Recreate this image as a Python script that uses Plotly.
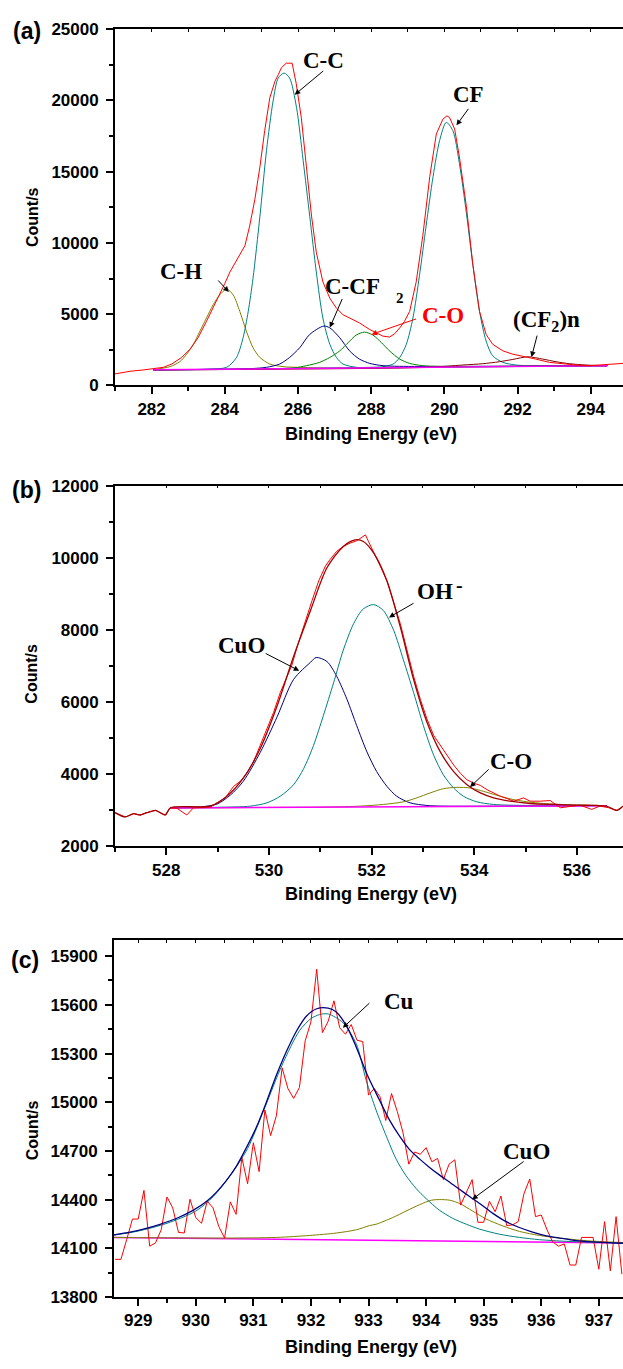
import plotly.graph_objects as go

W, H = 623, 1369

# ---------------- Panel (a): C 1s ----------------
A_RAW_X = [281.0, 281.41, 281.77, 282.05, 282.32, 282.55, 282.68, 282.82, 283.05, 283.27, 283.5, 283.68, 283.86,
           284.0, 284.14, 284.27, 284.41, 284.55, 284.68, 284.82, 284.96, 285.09, 285.23, 285.37, 285.46, 285.55,
           285.68, 285.84, 285.95, 286.09, 286.23, 286.37, 286.5, 286.68, 286.87, 287.05, 287.23, 287.41, 287.68,
           287.96, 288.14, 288.32, 288.5, 288.64, 288.78, 288.91, 289.05, 289.23, 289.41, 289.6, 289.78, 289.96,
           290.07, 290.14, 290.28, 290.41, 290.6, 290.78, 290.96, 291.14, 291.32, 291.6, 291.87, 292.23, 292.5,
           292.87, 293.23, 293.6, 293.96, 294.32, 294.5, 294.88]
A_RAW_Y = [807, 992, 1084, 1153, 1269, 1499, 1730, 1961, 2537, 3345, 4498, 5421, 6459,
           7151, 7958, 8535, 9112, 9804, 11188, 13033, 15340, 17878, 20185, 21338, 21800, 22300,
           22610, 22610, 21200, 18800, 15340, 11880, 9340, 7266, 6113, 5420, 4960, 4730, 4383,
           3921, 3690, 3460, 3391, 3622, 4037, 4498, 5190, 7266, 10496, 14648, 17647, 18685,
           18916, 18800, 17993, 16032, 12572, 8420, 5190, 3575, 2883, 2422, 2191, 2007, 1845,
           1615, 1499, 1430, 1384, 1430, 1499, 1545]

A_BASE_X = [282.05, 294.45]
A_BASE_Y = [1090, 1384]

A_CH_X = [282.05, 282.23, 282.5, 282.77, 282.96, 283.14, 283.32, 283.5, 283.68, 283.86, 284.05, 284.23, 284.41,
          284.59, 284.77, 284.96, 285.23, 285.59, 285.96, 287.0, 290.0, 294.45]
A_CH_Y = [1107, 1176, 1315, 1661, 2191, 2883, 3806, 4729, 5652, 6344, 6759, 6344, 5190,
          3806, 2653, 1961, 1500, 1315, 1269, 1215, 1280, 1384]

A_CC_X = [282.05, 283.14, 283.59, 284.05, 284.32, 284.5, 284.64, 284.77, 284.96, 285.14, 285.32, 285.46, 285.62,
          285.77, 285.96, 286.14, 286.32, 286.5, 286.68, 286.87, 287.05, 287.23, 287.6, 288.5, 291.0, 294.45]
A_CC_Y = [1090, 1112, 1150, 1270, 1960, 3345, 5190, 7497, 11880, 16493, 19954, 21568, 21915,
          21568, 19493, 15802, 11880, 7958, 4729, 2883, 1960, 1500, 1270, 1245, 1305, 1384]

A_CF_X = [282.05, 285.0, 287.96, 288.32, 288.6, 288.78, 288.96, 289.14, 289.32, 289.5, 289.69, 289.87, 290.05,
          290.23, 290.41, 290.6, 290.78, 290.96, 291.14, 291.32, 291.6, 291.96, 292.32, 294.45]
A_CF_Y = [1090, 1160, 1269, 1315, 1500, 1960, 2883, 4729, 7728, 11188, 14648, 17186, 18454,
          17878, 15571, 12111, 8420, 5190, 3114, 2076, 1615, 1430, 1384, 1384]

A_CCF2_X = [282.05, 284.68, 285.14, 285.5, 285.77, 286.05, 286.32, 286.7, 286.87, 287.14, 287.41, 287.68, 287.96,
            288.32, 288.78, 294.45]
A_CCF2_Y = [1090, 1176, 1269, 1500, 1961, 2653, 3575, 4160, 4037, 3345, 2422, 1845, 1545,
            1384, 1338, 1384]

A_CO_X = [282.05, 285.87, 286.23, 286.59, 286.87, 287.14, 287.37, 287.59, 287.82, 288.05, 288.28, 288.5, 288.78,
          289.05, 289.41, 289.87, 294.45]
A_CO_Y = [1090, 1223, 1384, 1615, 1961, 2422, 2999, 3529, 3737, 3529, 2999, 2422, 1845,
          1545, 1384, 1338, 1384]

A_CF2N_X = [282.05, 289.5, 290.5, 291.05, 291.5, 291.87, 292.28, 292.69, 293.05, 293.42, 293.87, 294.45]
A_CF2N_Y = [1090, 1265, 1430, 1522, 1661, 1822, 2007, 1845, 1661, 1522, 1430, 1384]

# ---------------- Panel (b): O 1s ----------------
B_RAW_X = [527.0, 527.2, 527.36, 527.49, 527.62, 527.79, 527.98, 528.08, 528.21, 528.4, 528.53, 528.73, 528.86,
           528.99, 529.15, 529.31, 529.44, 529.57, 529.7, 529.83, 529.96, 530.09, 530.22, 530.35, 530.45, 530.55,
           530.64, 530.74, 530.84, 530.97, 531.1, 531.19, 531.32, 531.45, 531.58, 531.71, 531.88, 531.94, 532.04,
           532.17, 532.3, 532.43, 532.56, 532.69, 532.82, 532.95, 533.08, 533.21, 533.34, 533.47, 533.6, 533.73,
           533.86, 533.99, 534.12, 534.25, 534.38, 534.51, 534.64, 534.77, 534.96, 535.09, 535.29, 535.48, 535.68,
           535.87, 536.06, 536.29, 536.45, 536.62, 536.78, 536.9]
B_RAW_Y = [2930, 2811, 2902, 2866, 2930, 2994, 2866, 3067, 3048, 2866, 3067, 3085, 3085,
           3203, 3340, 3659, 3796, 4024, 4343, 4799, 5254, 5710, 6257, 6713, 7032, 7533,
           7944, 8354, 8810, 9357, 9767, 9949, 10177, 10314, 10405, 10469, 10633, 10451, 10132,
           9767, 9357, 8764, 8172, 7442, 6713, 6075, 5528, 5072, 4799, 4525, 4252, 4024,
           3841, 3750, 3686, 3568, 3477, 3386, 3322, 3249, 3340, 3249, 3249, 3267, 3067,
           3112, 3139, 3021, 3112, 3067, 2994, 3112]

B_ENV_X = [527.0, 527.2, 527.36, 527.49, 527.62, 527.79, 527.98, 528.08, 528.86, 529.18, 529.5, 529.83, 530.16,
           530.48, 530.81, 531.13, 531.45, 531.68, 531.84, 532.04, 532.3, 532.56, 532.82, 533.08, 533.34, 533.6,
           533.86, 534.12, 534.38, 534.7, 535.09, 535.55, 536.0, 536.39, 536.58, 536.78, 536.9]
B_ENV_Y = [2930, 2811, 2902, 2866, 2930, 2994, 2866, 3067, 3112, 3386, 3887, 4707, 5893,
           7260, 8536, 9721, 10314, 10496, 10451, 10132, 9357, 8080, 6622, 5437, 4616, 4069,
           3705, 3477, 3340, 3249, 3185, 3158, 3139, 3130, 3112, 2994, 3112]

B_BASE_X = [528.08, 536.58]
B_BASE_Y = [3060, 3125]

B_CUO_X = [528.08, 528.66, 528.99, 529.25, 529.5, 529.83, 530.16, 530.48, 530.81, 530.92, 531.13, 531.32, 531.52,
           531.71, 531.91, 532.1, 532.3, 532.49, 532.75, 533.08, 533.4, 536.58]
B_CUO_Y = [3067, 3090, 3170, 3420, 3800, 4600, 5590, 6625, 7100, 7233, 7123, 6713, 6075,
           5345, 4616, 4069, 3659, 3386, 3203, 3130, 3112, 3125]

B_OH_X = [528.08, 529.0, 529.64, 529.96, 530.22, 530.48, 530.68, 530.87, 531.06, 531.26, 531.45, 531.65, 531.84,
          532.04, 532.23, 532.43, 532.62, 532.82, 533.01, 533.21, 533.4, 533.6, 533.79, 534.05, 534.38, 535.03,
          536.58]
B_OH_Y = [3060, 3080, 3112, 3203, 3386, 3705, 4161, 4799, 5619, 6531, 7442, 8172, 8582,
          8700, 8536, 7989, 7169, 6257, 5345, 4525, 3978, 3614, 3386, 3231, 3158, 3130,
          3125]

B_CO_X = [528.08, 530.16, 531.13, 531.78, 532.23, 532.62, 532.88, 533.14, 533.4, 533.66, 533.92, 534.18, 534.44,
          534.7, 535.03, 535.35, 535.87, 536.39, 536.58]
B_CO_Y = [3060, 3076, 3085, 3112, 3158, 3231, 3340, 3477, 3595, 3632, 3614, 3522, 3413,
          3313, 3231, 3185, 3149, 3130, 3125]

# ---------------- Panel (c): Cu 2p ----------------
C_RAW_X = [928.6, 928.7, 928.8, 928.9, 929.0, 929.1, 929.2, 929.3, 929.4, 929.5, 929.6, 929.7, 929.8, 929.9,
           930.0, 930.1, 930.2, 930.3, 930.4, 930.5, 930.6, 930.7, 930.8, 930.9, 931.0, 931.1, 931.2, 931.3,
           931.4, 931.5, 931.6, 931.7, 931.8, 931.9, 932.0, 932.1, 932.2, 932.3, 932.4, 932.5, 932.6, 932.7,
           932.8, 932.9, 933.0, 933.1, 933.2, 933.3, 933.4, 933.5, 933.6, 933.7, 933.8, 933.9, 934.0, 934.1,
           934.2, 934.3, 934.4, 934.5, 934.6, 934.7, 934.8, 934.9, 935.0, 935.1, 935.2, 935.3, 935.4, 935.5,
           935.6, 935.7, 935.8, 935.9, 936.0, 936.1, 936.2, 936.3, 936.4, 936.5, 936.6, 936.7, 936.8, 936.9,
           937.0, 937.1, 937.2, 937.3, 937.4]
C_RAW_Y = [14033, 14033, 14154, 14281, 14281, 14458, 14114, 14134, 14215, 14417, 14350, 14199, 14195, 14403,
           14290, 14255, 14391, 14350, 14235, 14164, 14387, 14310, 14660, 14498, 14751, 14573, 14953, 14795,
           14917, 15212, 15085, 15024, 15091, 15378, 15495, 15819, 15429, 15499, 15625, 15459, 15419, 15479,
           15382, 15374, 15044, 15085, 15034, 14888, 15054, 14943, 14812, 14619, 14694, 14680, 14721, 14634,
           14654, 14524, 14619, 14646, 14367, 14443, 14524, 14261, 14261, 14391, 14326, 14423, 14241, 14245,
           14265, 14437, 14528, 14296, 14306, 14215, 14140, 14114, 14128, 13998, 13998, 14168, 14168, 14168,
           13972, 14265, 13962, 14296, 13942]

C_ENV_X = [928.58, 928.86, 929.09, 929.38, 929.67, 929.96, 930.19, 930.36, 930.53, 930.71, 930.88, 931.06, 931.23,
           931.4, 931.58, 931.75, 931.92, 932.1, 932.3, 932.44, 932.62, 932.79, 932.97, 933.19, 933.36, 933.54,
           933.71, 933.89, 934.06, 934.23, 934.41, 934.58, 934.75, 934.93, 935.16, 935.39, 935.62, 935.85, 936.09,
           936.32, 936.61, 936.9, 937.42]
C_ENV_Y = [14184, 14201, 14219, 14249, 14286, 14336, 14391, 14447, 14518, 14609, 14721, 14852, 15004,
           15166, 15317, 15439, 15530, 15576, 15580, 15556, 15469, 15338, 15176, 15014, 14893, 14791,
           14710, 14650, 14599, 14553, 14508, 14464, 14421, 14377, 14316, 14265, 14229, 14201, 14178,
           14164, 14148, 14140, 14132]

C_CU_X = [928.58, 929.0, 929.5, 930.0, 930.3, 930.6, 930.9, 931.2, 931.5, 931.8, 932.0, 932.15, 932.3, 932.56,
          932.79, 932.96, 933.13, 933.31, 933.48, 933.65, 933.83, 934.0, 934.23, 934.46, 934.7, 934.93, 935.27,
          935.62, 935.97, 936.43, 936.9, 937.42]
C_CU_Y = [14182, 14207, 14255, 14330, 14418, 14550, 14715, 14968, 15230, 15440, 15515, 15540, 15544, 15489,
          15358, 15135, 14953, 14791, 14650, 14549, 14468, 14407, 14336, 14286, 14249, 14219, 14188,
          14168, 14154, 14144, 14138, 14132]

C_CUO_X = [928.58, 930.48, 931.4, 931.98, 932.44, 932.79, 933.02, 933.13, 933.42, 933.65, 933.89, 934.09, 934.23,
           934.41, 934.58, 934.81, 935.04, 935.33, 935.62, 935.97, 936.32, 936.78, 937.42]
C_CUO_Y = [14168, 14164, 14168, 14180, 14195, 14215, 14241, 14249, 14290, 14330, 14370, 14397, 14401,
           14397, 14377, 14330, 14282, 14239, 14205, 14180, 14164, 14148, 14136]

C_BASE_X = [928.58, 937.42]
C_BASE_Y = [14168, 14134]

RED = "#FF0000"
TEAL = "#008080"
OLIVE = "#808000"
NAVY = "#000080"
GREEN = "#008000"
MAROON = "#800000"
MAGENTA = "#FF00FF"
DARKRED = "#A00000"

fig = go.Figure()


def add(x, y, color, xa, ya, shape="spline", width=1.0):
    fig.add_trace(go.Scatter(x=x, y=y, mode="lines", xaxis=xa, yaxis=ya, showlegend=False,
                             line=dict(color=color, width=width, shape=shape,
                                       smoothing=0.8 if shape == "spline" else None),
                             hoverinfo="skip"))


# panel a
add(A_CH_X, A_CH_Y, OLIVE, "x", "y")
add(A_CC_X, A_CC_Y, TEAL, "x", "y")
add(A_CF_X, A_CF_Y, TEAL, "x", "y")
add(A_CCF2_X, A_CCF2_Y, NAVY, "x", "y")
add(A_CO_X, A_CO_Y, GREEN, "x", "y")
add(A_CF2N_X, A_CF2N_Y, MAROON, "x", "y")
add(A_BASE_X, A_BASE_Y, MAGENTA, "x", "y", shape="linear", width=1.5)
add(A_RAW_X, A_RAW_Y, RED, "x", "y", shape="linear")

# panel b
add(B_CUO_X, B_CUO_Y, NAVY, "x2", "y2")
add(B_OH_X, B_OH_Y, TEAL, "x2", "y2")
add(B_CO_X, B_CO_Y, OLIVE, "x2", "y2")
add(B_BASE_X, B_BASE_Y, MAGENTA, "x2", "y2", shape="linear", width=1.5)
add(B_RAW_X, B_RAW_Y, RED, "x2", "y2", shape="linear")
add(B_ENV_X, B_ENV_Y, DARKRED, "x2", "y2", width=1.3)

# panel c
add(C_BASE_X, C_BASE_Y, MAGENTA, "x3", "y3", shape="linear", width=1.5)
add(C_CUO_X, C_CUO_Y, OLIVE, "x3", "y3")
add(C_CU_X, C_CU_Y, TEAL, "x3", "y3")
add(C_RAW_X, C_RAW_Y, RED, "x3", "y3", shape="linear")
add(C_ENV_X, C_ENV_Y, NAVY, "x3", "y3", width=1.3)

# empty traces that carry the top (mirror) tick axes
for xa, ya in (("x4", "y"), ("x5", "y2"), ("x6", "y3")):
    fig.add_trace(go.Scatter(x=[], y=[], xaxis=xa, yaxis=ya, showlegend=False, hoverinfo="skip"))


def ydom(top_px, bot_px):
    return [1 - bot_px / H, 1 - top_px / H]


tickfont = dict(family="Liberation Sans", size=17, color="black", weight="bold")


def xax(rng, dtick, tick0, minor, anchor, left_px):
    return dict(domain=[left_px / W, 1], range=rng, anchor=anchor, dtick=dtick, tick0=tick0,
                tickformat="d",
                showgrid=False, zeroline=False, showline=True, linecolor="black", linewidth=1.8,
                ticks="outside", ticklen=7, tickwidth=1.5, tickcolor="black", tickfont=tickfont,
                minor=dict(dtick=minor, ticks="outside", ticklen=4, tickwidth=1.5, tickcolor="black"))


def topax(rng, dtick, tick0, anchor, left_px):
    return dict(domain=[left_px / W, 1], range=rng, anchor=anchor, side="top", overlaying=None,
                dtick=dtick, tick0=tick0, showticklabels=False, showgrid=False, zeroline=False,
                showline=True, linecolor="black", linewidth=1.8,
                ticks="inside", ticklen=3, tickwidth=1, tickcolor="black")


def yax(rng, dtick, tick0, minor, anchor, dom):
    return dict(domain=dom, range=rng, anchor=anchor, dtick=dtick, tick0=tick0,
                tickformat="d",
                showgrid=False, zeroline=False, showline=True, linecolor="black", linewidth=1.8,
                ticks="outside", ticklen=7, tickwidth=1.5, tickcolor="black", tickfont=tickfont,
                ticklabelstandoff=4,
                minor=dict(dtick=minor, ticks="outside", ticklen=4, tickwidth=1.5, tickcolor="black"))


xa4 = topax([281, 294.88], 1, 282, "y", 115)
xa4["overlaying"] = "x"
xa5 = topax([527, 536.9], 1, 528, "y2", 115)
xa5["overlaying"] = "x2"
xa6 = topax([928.58, 937.42], 0.5, 929, "y3", 114)
xa6["overlaying"] = "x3"

fig.update_layout(
    width=W, height=H, margin=dict(l=0, r=0, t=0, b=0),
    paper_bgcolor="white", plot_bgcolor="white",
    xaxis=xax([281, 294.88], 2, 282, 1, "y", 115),
    yaxis=yax([0, 25000], 5000, 0, 2500, "x", ydom(20.4, 381.7)),
    xaxis2=xax([527, 536.9], 2, 528, 1, "y2", 115),
    yaxis2=yax([2000, 12000], 2000, 2000, 1000, "x2", ydom(483.3, 849)),
    xaxis3=xax([928.58, 937.42], 1, 929, 0.5, "y3", 114),
    yaxis3=yax([13800, 16000], 300, 13800, 150, "x3", ydom(944, 1306.3)),
    xaxis4=xa4, xaxis5=xa5, xaxis6=xa6,
)

ann = []


def ptext(x, y, text, size=23, family="Liberation Serif", color="black", weight="bold", rot=0):
    ann.append(dict(xref="paper", yref="paper", x=x / W, y=1 - y / H, text=text, showarrow=False,
                    xanchor="center", yanchor="middle", textangle=rot,
                    font=dict(family=family, size=size, color=color, weight=weight)))


def arrow(xa, ya, x, y, ax, ay, color="black"):
    ann.append(dict(xref=xa, yref=ya, x=x, y=y, ax=ax, ay=ay, axref="pixel", ayref="pixel", text="",
                    showarrow=True, arrowhead=2, arrowsize=1.1, arrowwidth=1, arrowcolor=color))


SANS = "Liberation Sans"
# panel letters
ptext(27, 22, "(a)", size=23, family=SANS)
ptext(27, 488, "(b)", size=23, family=SANS)
ptext(25, 964, "(c)", size=23, family=SANS)
# axis titles
for yc in (211, 674, 1137):
    ptext(32, yc, "Count/s", size=16, family=SANS, rot=-90)
for yc in (431, 897, 1357):
    ptext(371, yc, "Binding Energy (eV)", size=18, family=SANS)

# panel a labels
ptext(323, 52, "C-C")
ptext(469, 87, "CF")
ptext(181, 266, "C-H")
ptext(352, 281, "C-CF")
ptext(400, 293, "2", size=15)
ptext(443, 311, "C-O", color=RED)
ptext(546, 316, "(CF<sub>2</sub>)n")
arrow("x", "y", 285.91, 20394, 30, -25)
arrow("x", "y", 290.33, 18249, 13, -18)
arrow("x", "y", 284.11, 6554, -12, -13)
arrow("x", "y", 286.87, 4062, 13, -30)
arrow("x", "y", 288.01, 3578, 46, -16, color=RED)
arrow("x", "y", 292.38, 1986, 6, -23)

# panel b labels
ptext(435, 591, "OH")
ptext(459, 584, "-", size=20)
ptext(241, 645, "CuO")
ptext(511, 763, "C-O")
arrow("x2", "y2", 532.34, 8344, 26, -15)
arrow("x2", "y2", 530.59, 6867, -35, -18)
arrow("x2", "y2", 533.92, 3641, 20, -19)

# panel c labels
ptext(399, 1006, "Cu")
ptext(526, 1159, "CuO")
arrow("x3", "y3", 932.555, 15459, 28, -26)
arrow("x3", "y3", 934.8, 14402, 53, -39)

fig.update_layout(annotations=ann)
fig.write_html("out.html")
